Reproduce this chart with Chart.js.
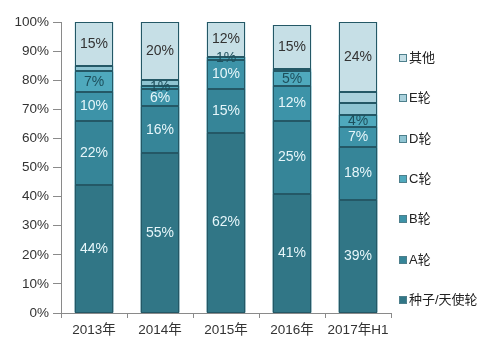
<!DOCTYPE html>
<html>
<head>
<meta charset="utf-8">
<script src="https://cdn.jsdelivr.net/npm/chart.js@4.4.0/dist/chart.umd.min.js"></script>
<style>
html,body{margin:0;padding:0;background:#fff;}
#wrap{width:493px;height:348px;position:relative;}
</style>
</head>
<body>
<div id="wrap"><canvas id="c" width="493" height="348"></canvas></div>
<script>
const categories = ["2013年", "2014年", "2015年", "2016年", "2017年H1"];
const seriesNames = ["种子/天使轮", "A轮", "B轮", "C轮", "D轮", "E轮", "其他"];
const seed   = [44, 55, 62, 41, 39];
const roundA = [22, 16, 15, 25, 18];
const roundB = [10, 6, 10, 12, 7];
const roundC = [7, 1, 1, 5, 4];
const roundD = [2, 2, 0, 1, 4];
const roundE = [0, 0, 0, 0, 4];
const other  = [15, 20, 12, 15, 24];
const yTicks = [0, 10, 20, 30, 40, 50, 60, 70, 80, 90, 100];

const colors = ["#317686", "#368598", "#3d93a8", "#4fa9bd", "#8ec4d2", "#aad1dc", "#c6dfe6"];
const labelColors = ["#e6f6fa", "#e6f6fa", "#e6f6fa", "#1d4f5c", null, null, "#333333"];
const values = [seed, roundA, roundB, roundC, roundD, roundE, other];

const FONT = "'Liberation Sans', Arial, 'Noto Sans CJK SC', sans-serif";

const datasets = seriesNames.map((n, i) => ({
  label: n,
  data: values[i],
  backgroundColor: colors[i],
  borderWidth: 0,
  barPercentage: 0.59,
  categoryPercentage: 1.0,
  labelColor: labelColors[i]
}));

const outlinesAndLabels = {
  id: "outlinesAndLabels",
  afterDatasetsDraw(chart) {
    const ctx = chart.ctx;
    ctx.save();
    ctx.strokeStyle = "#245866";
    ctx.lineWidth = 1;
    chart.data.datasets.forEach((ds, di) => {
      const meta = chart.getDatasetMeta(di);
      meta.data.forEach((el, i) => {
        if (!ds.data[i]) return;
        const x0 = Math.round(el.x - el.width / 2) + 0.5;
        const x1 = Math.round(el.x + el.width / 2) - 0.5;
        const y0 = Math.round(el.y) + 0.5;
        const y1 = Math.round(el.base) - 0.5;
        ctx.strokeRect(x0, y0, x1 - x0, y1 - y0);
      });
    });
    ctx.font = "14px " + FONT;
    ctx.textAlign = "center";
    ctx.textBaseline = "middle";
    chart.data.datasets.forEach((ds, di) => {
      if (!ds.labelColor) return;
      const meta = chart.getDatasetMeta(di);
      meta.data.forEach((el, i) => {
        const v = ds.data[i];
        if (!v) return;
        ctx.fillStyle = ds.labelColor;
        ctx.fillText(v + "%", el.x, (el.y + el.base) / 2);
      });
    });
    ctx.restore();
  }
};

const customLegend = {
  id: "customLegend",
  afterDraw(chart) {
    const ctx = chart.ctx;
    ctx.save();
    ctx.font = "13px " + FONT;
    ctx.textBaseline = "middle";
    ctx.textAlign = "left";
    const ds = chart.data.datasets;
    const n = ds.length;
    for (let k = 0; k < n; k++) {
      const d = ds[n - 1 - k];
      const y = Math.round(58 + k * 40.3);
      ctx.fillStyle = d.backgroundColor;
      ctx.fillRect(399.5, y - 3.5, 7, 7);
      ctx.strokeStyle = "#4d7f8c";
      ctx.lineWidth = 1;
      ctx.strokeRect(399.5, y - 3.5, 7, 7);
      ctx.fillStyle = "#222";
      ctx.fillText(d.label, 409, y + 0.5);
    }
    ctx.restore();
  }
};

new Chart(document.getElementById("c"), {
  type: "bar",
  data: { labels: categories, datasets: datasets },
  plugins: [outlinesAndLabels, customLegend],
  options: {
    responsive: false,
    animation: false,
    layout: { padding: { top: 22, right: 102, left: 0, bottom: 0 } },
    plugins: { legend: { display: false }, tooltip: { enabled: false } },
    scales: {
      x: {
        stacked: true,
        grid: { display: true, drawOnChartArea: false, tickLength: 5, color: "#8a8a8a", offset: true },
        border: { display: true, color: "#8a8a8a" },
        ticks: { color: "#333", font: { size: 13.5, family: FONT }, padding: 4, maxRotation: 0 },
        afterFit(s) { s.height = 35; }
      },
      y: {
        stacked: true,
        min: 0, max: 100,
        afterBuildTicks(s) { s.ticks = yTicks.map(v => ({ value: v })); },
        grid: { display: true, drawOnChartArea: false, tickLength: 8, color: "#8a8a8a" },
        border: { display: true, color: "#8a8a8a" },
        ticks: { color: "#333", font: { size: 13.5, family: FONT }, padding: 4, callback: v => v + "%" },
        afterFit(s) { s.width = 61; }
      }
    }
  }
});
</script>
</body>
</html>
